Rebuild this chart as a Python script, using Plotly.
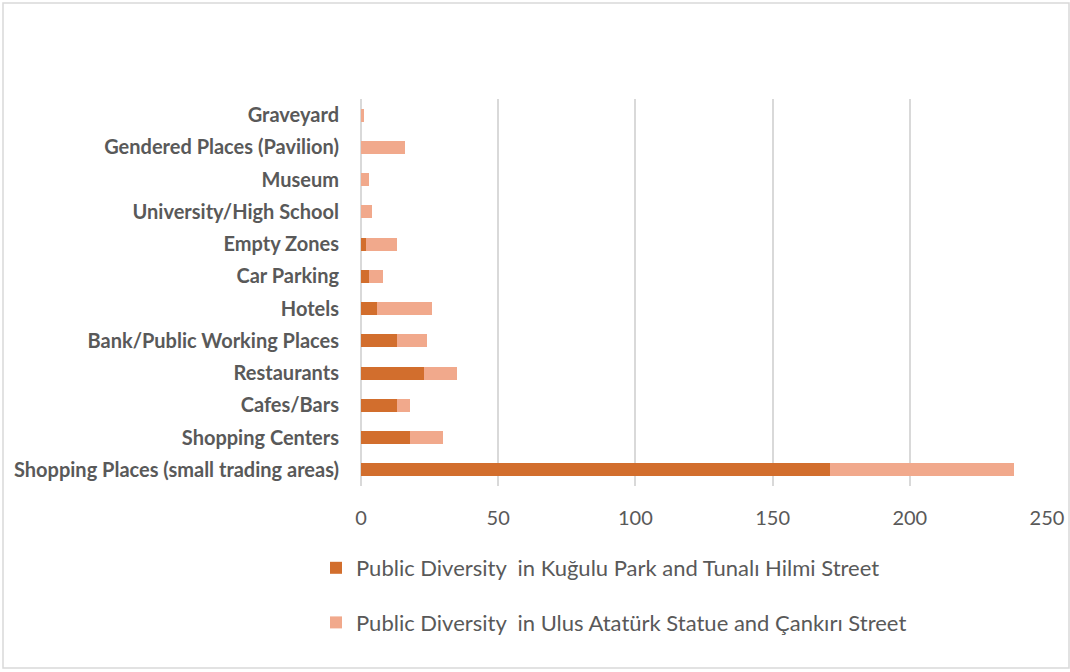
import plotly.graph_objects as go

categories = ["Shopping Places (small trading areas)", "Shopping Centers", "Cafes/Bars",
              "Restaurants", "Bank/Public Working Places", "Hotels", "Car Parking",
              "Empty Zones", "University/High School", "Museum",
              "Gendered Places (Pavilion)", "Graveyard"]
kugulu = [171, 18, 13, 23, 13, 6, 3, 2, 0, 0, 0, 0]
ulus = [67, 12, 5, 12, 11, 20, 5, 11, 4, 3, 16, 1]
series_names = ["Public Diversity  in Kuğulu Park and Tunalı Hilmi Street",
                "Public Diversity  in Ulus Atatürk Statue and Çankırı Street"]
x_ticks = [0, 50, 100, 150, 200, 250]

W, H = 1070, 672
L, R, T, B = 361, 23, 99, 186

fig = go.Figure()
fig.add_trace(go.Bar(y=categories, x=kugulu, orientation="h", name=series_names[0],
                     marker=dict(color="#D26E2D", line=dict(width=0)), legendgroup="a"))
fig.add_trace(go.Bar(y=categories, x=ulus, orientation="h", name=series_names[1],
                     marker=dict(color="#F1A98C", line=dict(width=0)), legendgroup="b"))

pw = W - L - R
ph = H - T - B

fig.update_layout(
    width=W, height=H, barmode="stack", bargap=0.6,
    margin=dict(l=L, r=R, t=T, b=B, pad=0, autoexpand=False),
    plot_bgcolor="white", paper_bgcolor="white",
    font=dict(family="Lato, sans-serif", color="#595959"),
    xaxis=dict(range=[0, 250], tickvals=x_ticks, showgrid=True, gridcolor="#D9D9D9",
               gridwidth=2, zeroline=True, zerolinecolor="#D9D9D9", zerolinewidth=2,
               tickfont=dict(size=20, color="#595959"), ticks="outside", ticklen=14,
               tickcolor="rgba(0,0,0,0)", showline=False, automargin=False),
    yaxis=dict(categoryorder="array", categoryarray=categories, showgrid=False,
               tickfont=dict(size=20, color="#595959", weight="bold"),
               ticks="outside", ticklen=17, tickcolor="rgba(0,0,0,0)", showline=False,
               zeroline=False, automargin=False),
    legend=dict(x=(316 - L) / pw, y=1 - (547 - T) / ph, xanchor="left", yanchor="top",
                orientation="v", font=dict(size=22, color="#595959"), tracegroupgap=23,
                itemwidth=30, bgcolor="rgba(0,0,0,0)"),
    showlegend=True,
)

# outer border
fig.add_shape(type="rect", xref="paper", yref="paper",
              x0=(3 - L) / pw, x1=(W - 1 - L) / pw,
              y0=1 - (H - 4 - T) / ph, y1=1 - (3 - T) / ph,
              line=dict(color="#D9D9D9", width=1.5), fillcolor="rgba(0,0,0,0)", layer="below")

fig.write_html("out.html")
